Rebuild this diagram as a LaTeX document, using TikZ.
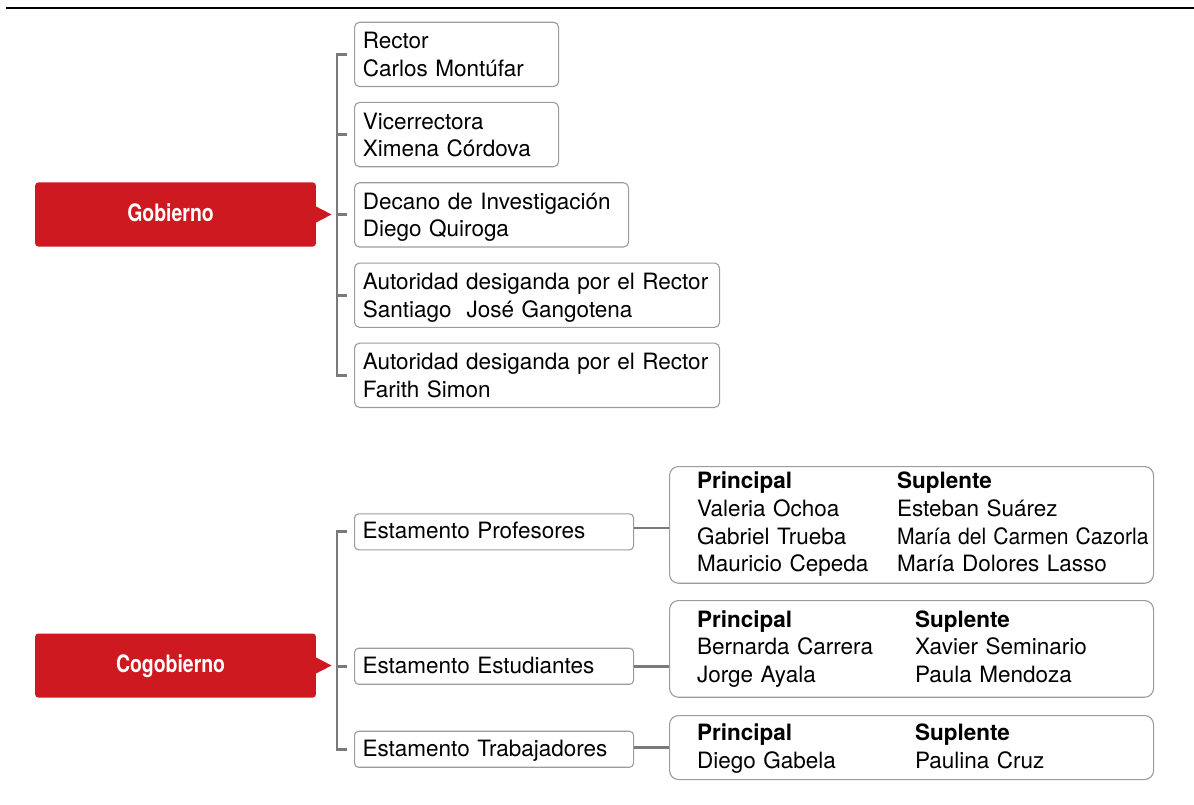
\documentclass[tikz,border=0pt]{standalone}
\usepackage{fontspec}
\setmainfont{TeX Gyre Heros}
\usepackage{graphicx}
\definecolor{redbox}{HTML}{CF1920}
\definecolor{brkgray}{HTML}{7A7A7A}
\definecolor{boxgray}{HTML}{9C9C9C}
\newcommand\myH[1]{\rule{0pt}{#1}}
\newcommand\myD[1]{\rule[-#1]{0pt}{#1}}
\newcommand\colA[1]{\makebox[200pt][l]{#1}}
\newcommand\colB[1]{\makebox[218pt][l]{#1}}
\tikzset{
  redlabel/.style={fill=redbox, rounded corners=3pt, minimum width=280.7pt, minimum height=64pt,
    inner sep=0pt, anchor=north west, text=white, text height=17.2pt, text depth=3.4pt,
    font=\fontsize{24}{28}\selectfont\bfseries},
  personbox/.style={draw=boxgray, line width=1.1pt, rounded corners=5pt, anchor=north west,
    minimum height=64.3pt, inner xsep=8.3pt, inner ysep=0pt, align=left,
    font=\fontsize{22.5}{27.4}\selectfont},
  estbox/.style={draw=boxgray, line width=1.1pt, rounded corners=4pt, anchor=north west,
    minimum width=279pt, minimum height=36pt, inner xsep=8pt, inner ysep=0pt,
    text width=263pt, align=left, text height=15pt, text depth=1pt,
    font=\fontsize{22.5}{27.4}\selectfont},
  membox/.style={draw=boxgray, line width=1.1pt, rounded corners=9pt, anchor=north west,
    minimum width=484pt, inner xsep=27.5pt, inner ysep=0pt, text width=429pt, align=left,
    font=\fontsize{22.5}{27.6}\selectfont},
  brk/.style={draw=brkgray, line width=2.8pt},
  conn/.style={draw=brkgray, line width=2.5pt},
  rule/.style={draw=black, line width=1.3pt},
}
\begin{document}
\begin{tikzpicture}[x=1pt,y=-1pt]
\useasboundingbox (0,0) rectangle (1194,805);
% top rule
\coordinate (ruleL) at (6,8);
\coordinate (ruleR) at (1194,8);
\draw[rule] (ruleL) -- (ruleR);

% ---------- Gobierno ----------
\node[redlabel] (gob) at (35,182.3) {\scalebox{0.81}[1]{Gobierno}\hspace*{10pt}};
\fill[redbox] ([xshift=-1pt,yshift=8.5pt]gob.east) -- ([xshift=15.5pt]gob.east) -- ([xshift=-1pt,yshift=-8.5pt]gob.east) -- cycle;

\node[personbox, minimum width=204pt, text width=187.4pt] (r1) at (354,21.7)
  {\myH{21.3pt}Rector\\Carlos Montúfar\myD{5pt}};
\node[personbox, minimum width=204pt, text width=187.4pt] (r2) at (354,101.9)
  {\myH{21.3pt}Vicerrectora\\Ximena Córdova\myD{5pt}};
\node[personbox, minimum width=274pt, text width=257.4pt] (r3) at (354,182.2)
  {\myH{21.3pt}Decano de Investigación\\Diego Quiroga\myD{5pt}};
\node[personbox, minimum width=365pt, text width=348.4pt] (r4) at (354,262.5)
  {\myH{21.3pt}\mbox{Autoridad desiganda por el Rector}\\Santiago\ \ José Gangotena\myD{5pt}};
\node[personbox, minimum width=365pt, text width=348.4pt] (r5) at (354,342.6)
  {\myH{21.3pt}\mbox{Autoridad desiganda por el Rector}\\Farith Simon\myD{5pt}};

\draw[brk] ([xshift=-7pt]r1.west) -- ([xshift=-17pt]r1.west) |- ([xshift=-7pt]r5.west);
\draw[brk] ([xshift=-7pt]r2.west) -- ([xshift=-17pt]r2.west);
\draw[brk] ([xshift=-7pt]r3.west) -- ([xshift=-17pt]r3.west);
\draw[brk] ([xshift=-7pt]r4.west) -- ([xshift=-17pt]r4.west);

% ---------- Cogobierno ----------
\node[redlabel] (cog) at (35,633.3) {\scalebox{0.81}[1]{Cogobierno}\hspace*{10pt}};
\fill[redbox] ([xshift=-1pt,yshift=8.5pt]cog.east) -- ([xshift=15.5pt]cog.east) -- ([xshift=-1pt,yshift=-8.5pt]cog.east) -- cycle;

\node[estbox] (e1) at (354,513.3) {Estamento Profesores};
\node[estbox] (e2) at (354,647.7) {Estamento Estudiantes};
\node[estbox] (e3) at (354,730.7) {Estamento Trabajadores};

\draw[brk] ([xshift=-7pt]e1.west) -- ([xshift=-17pt]e1.west) |- ([xshift=-7pt]e3.west);
\draw[brk] ([xshift=-7pt]e2.west) -- ([xshift=-17pt]e2.west);

\node[membox, minimum height=116.7pt] (m1) at (669,466)
  {\myH{16.7pt}\colA{\textbf{Principal}}\mbox{\textbf{Suplente}}\\
   \colA{Valeria Ochoa}\mbox{Esteban Suárez}\\
   \colA{Gabriel Trueba}\scalebox{0.94}[1]{María del Carmen Cazorla}\\
   \colA{Mauricio Cepeda}\mbox{María Dolores Lasso}\myD{6pt}};
\node[membox, minimum height=96.7pt] (m2) at (669,600)
  {\myH{17.9pt}\colB{\textbf{Principal}}\mbox{\textbf{Suplente}}\\
   \colB{Bernarda Carrera}\mbox{Xavier Seminario}\\
   \colB{Jorge Ayala}\mbox{Paula Mendoza}\myD{6pt}};
\node[membox, minimum height=64pt] (m3) at (669,715)
  {\myH{19.6pt}\colB{\textbf{Principal}}\mbox{\textbf{Suplente}}\\
   \colB{Diego Gabela}\mbox{Paulina Cruz}\myD{6pt}};

\draw[conn] ([yshift=4pt]e1.east) -- ([yshift=4pt]e1.east -| m1.west);
\draw[conn] (e2.east) -- (e2.east -| m2.west);
\draw[conn] ([yshift=2pt]e3.east) -- ([yshift=2pt]e3.east -| m3.west);
\end{tikzpicture}
\end{document}
